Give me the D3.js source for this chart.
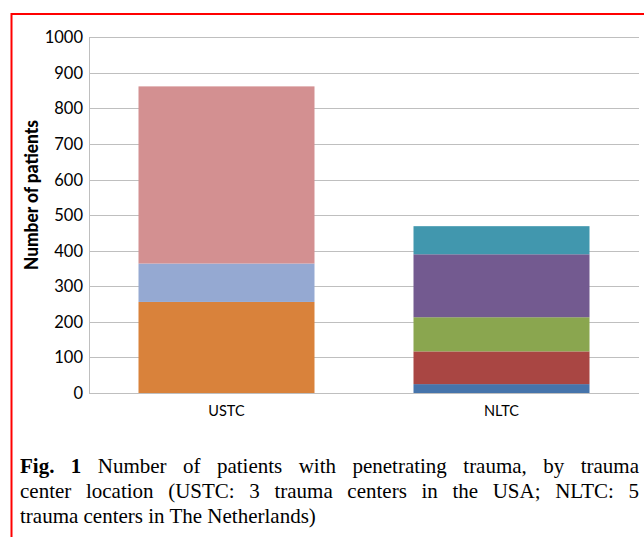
<!DOCTYPE html>
<html>
<head>
<meta charset="utf-8">
<script src="https://cdn.jsdelivr.net/npm/d3@7"></script>
<style>
  body { margin: 0; background: #fff; }
  svg { display: block; }
</style>
</head>
<body>
<svg id="chart" width="644" height="537"></svg>
<script>
// categories and stacked segment values (bottom to top)
var centers = ["USTC", "NLTC"];
var ustcValues = [256, 108, 498];
var ustcColors = ["#d9823b", "#95a9d2", "#d39091"];
var nltcValues = [25, 92, 96, 177, 79];
var nltcColors = ["#4674ab", "#a94643", "#8aa64f", "#735a90", "#4197ae"];
var yTicks = [0, 100, 200, 300, 400, 500, 600, 700, 800, 900, 1000];
var captionLines = [
  "Number of patients with penetrating trauma, by trauma",
  "center location (USTC: 3 trauma centers in the USA; NLTC: 5",
  "trauma centers in The Netherlands)"
];

var svg = d3.select("#chart");
var plotLeft = 89, plotRight = 639, plotTop = 37.3, plotBottom = 393;

var xScale = d3.scaleBand()
  .domain(centers)
  .range([plotLeft, plotRight])
  .paddingInner(0.36)
  .paddingOuter(0.18);

var yScale = d3.scaleLinear()
  .domain([0, 1000])
  .range([plotBottom, plotTop]);

// red frame
svg.append("rect")
  .attr("x", 11.5).attr("y", 14)
  .attr("width", 640).attr("height", 530)
  .attr("fill", "none")
  .attr("stroke", "#ff0000")
  .attr("stroke-width", 2);

// gridlines
svg.append("g")
  .selectAll("line")
  .data(yTicks)
  .enter()
  .append("line")
  .attr("x1", plotLeft).attr("x2", plotRight)
  .attr("y1", function(d) { return Math.round(yScale(d)) + 0.5; })
  .attr("y2", function(d) { return Math.round(yScale(d)) + 0.5; })
  .attr("stroke", "#bfbfbf")
  .attr("stroke-width", 1);

// y axis line
svg.append("line")
  .attr("x1", plotLeft + 0.5).attr("x2", plotLeft + 0.5)
  .attr("y1", yScale(1000)).attr("y2", yScale(0))
  .attr("stroke", "#bfbfbf");

// tick labels
svg.append("g")
  .selectAll("text")
  .data(yTicks)
  .enter()
  .append("text")
  .attr("x", plotLeft - 6)
  .attr("y", function(d) { return yScale(d); })
  .attr("dy", "0.36em")
  .attr("text-anchor", "end")
  .attr("font-family", "Lato, sans-serif")
  .attr("font-size", 16.5)
  .attr("fill", "#000")
  .text(function(d) { return d; });

// stacked bars
function drawStack(name, values, colors) {
  var base = 0;
  var segs = values.map(function(v, i) {
    var s = { y0: base, y1: base + v, color: colors[i] };
    base += v;
    return s;
  });
  svg.append("g")
    .selectAll("rect")
    .data(segs)
    .enter()
    .append("rect")
    .attr("x", xScale(name))
    .attr("width", xScale.bandwidth())
    .attr("y", function(d) { return yScale(d.y1); })
    .attr("height", function(d) { return yScale(d.y0) - yScale(d.y1); })
    .attr("fill", function(d) { return d.color; });
}
drawStack("USTC", ustcValues, ustcColors);
drawStack("NLTC", nltcValues, nltcColors);

// category labels
svg.append("g")
  .selectAll("text")
  .data(centers)
  .enter()
  .append("text")
  .attr("x", function(d) { return xScale(d) + xScale.bandwidth() / 2; })
  .attr("y", 416)
  .attr("text-anchor", "middle")
  .attr("font-family", "Lato, sans-serif")
  .attr("font-size", 14.5)
  .attr("fill", "#000")
  .text(function(d) { return d; });

// y axis title
svg.append("text")
  .attr("transform", "translate(38," + 195 + ") rotate(-90)")
  .attr("text-anchor", "middle")
  .attr("font-family", "Lato, sans-serif")
  .attr("font-weight", 900)
  .attr("font-size", 18)
  .attr("textLength", 150)
  .attr("lengthAdjust", "spacingAndGlyphs")
  .attr("fill", "#000")
  .text("Number of patients");

// caption, justified lines
var capLeft = 20, capRight = 639;
var baselines = [473, 498, 523];
captionLines.forEach(function(line, i) {
  var t = svg.append("text")
    .attr("x", capLeft)
    .attr("y", baselines[i])
    .attr("font-family", "'Liberation Serif', 'Times New Roman', serif")
    .attr("font-size", 21)
    .attr("fill", "#000")
    .attr("xml:space", "preserve");
  var full = line;
  if (i === 0) {
    t.append("tspan").attr("font-weight", "bold").text("Fig. 1");
    t.append("tspan").text(" " + line);
    full = "Fig. 1 " + line;
  } else {
    t.text(line);
  }
  if (i < captionLines.length - 1) {
    var natural = t.node().getComputedTextLength();
    var gaps = full.split(" ").length - 1;
    t.attr("word-spacing", ((capRight - capLeft) - natural) / gaps);
  }
});
</script>
</body>
</html>
